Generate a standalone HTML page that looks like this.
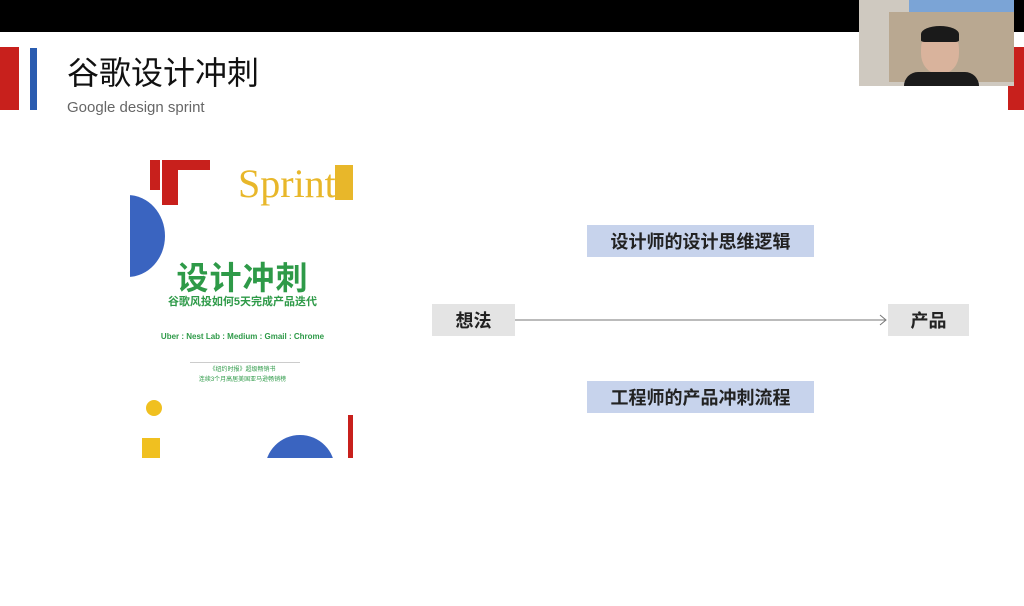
<!DOCTYPE html>
<html><head><meta charset="utf-8"><style>
body{margin:0;width:1024px;height:606px;background:#fff;position:relative;overflow:hidden;font-family:"Liberation Sans","Noto Sans CJK SC",sans-serif}
div{position:absolute}
.box{display:flex;align-items:center;justify-content:center;font-size:18px;font-weight:bold;color:#222}
.g{background:#e4e4e4}.b{background:#c7d3ec}
</style></head><body>
<div style="left:0;top:0;width:1024px;height:32px;background:#000"></div>
<div style="left:0;top:47px;width:19px;height:63px;background:#c8201c"></div>
<div style="left:30px;top:48px;width:7px;height:62px;background:#2a5cb0"></div>
<div style="left:1008px;top:47px;width:16px;height:63px;background:#c8201c"></div>
<div style="left:67px;top:48px;font-size:32px;color:#111">谷歌设计冲刺</div>
<div style="left:67px;top:99px;font-size:15px;color:#666">Google design sprint</div>
<!-- webcam -->
<div style="left:859px;top:0;width:155px;height:86px;background:#cfc9c0;overflow:hidden">
 <div style="left:50px;top:0;width:105px;height:20px;background:#7ba4d6"></div>
 <div style="left:30px;top:12px;width:125px;height:70px;background:#b9a891"></div>
 <div style="left:62px;top:28px;width:38px;height:46px;background:#d9b39c;border-radius:45%"></div>
 <div style="left:62px;top:26px;width:38px;height:16px;background:#1a1a1a;border-radius:50% 50% 10% 10%"></div>
 <div style="left:45px;top:72px;width:75px;height:14px;background:#1b1b1b;border-radius:20px 20px 0 0"></div>
</div>
<!-- book -->
<div style="left:130px;top:160px;width:225px;height:298px;overflow:hidden">
 <div style="left:20px;top:0;width:10px;height:30px;background:#c8201c"></div>
 <div style="left:32px;top:0;width:16px;height:45px;background:#c8201c"></div>
 <div style="left:32px;top:0;width:48px;height:10px;background:#c8201c"></div>
 <div style="left:-40px;top:35px;width:75px;height:82px;border-radius:50%;background:#3a64c0"></div>
 <div style="left:-40px;top:55px;width:40px;height:45px;border-radius:50%;background:#fff"></div>
 <div style="left:108px;top:0;font-family:'Liberation Serif',serif;font-size:40px;color:#e8b72a">Sprint</div>
 <div style="left:205px;top:5px;width:18px;height:35px;background:#e8b72a"></div>
 <div style="left:0;top:93px;width:225px;text-align:center;font-size:32px;font-weight:bold;color:#2e9a48;letter-spacing:1px">设计冲刺</div>
 <div style="left:0;top:133px;width:225px;text-align:center;font-size:11px;font-weight:bold;color:#2e9a48">谷歌风投如何5天完成产品迭代</div>
 <div style="left:0;top:172px;width:225px;text-align:center;font-size:8px;font-weight:bold;color:#2e9a48">Uber : Nest Lab : Medium : Gmail : Chrome</div>
 <div style="left:60px;top:202px;width:110px;height:1px;background:#ccc"></div>
 <div style="left:0;top:205px;width:225px;text-align:center;font-size:6px;color:#2e9a48;line-height:10px">《纽约时报》超级畅销书<br>连续3个月高居美国亚马逊畅销榜</div>
 <div style="left:16px;top:240px;width:16px;height:16px;border-radius:50%;background:#f0c020"></div>
 <div style="left:12px;top:278px;width:18px;height:20px;background:#f0c020"></div>
 <div style="left:135px;top:275px;width:70px;height:50px;border-radius:35px 35px 0 0;background:#3a64c0"></div>
 <div style="left:218px;top:255px;width:5px;height:45px;background:#c8201c"></div>
</div>
<!-- diagram -->
<div class="box b" style="left:587px;top:225px;width:227px;height:32px">设计师的设计思维逻辑</div>
<div class="box b" style="left:587px;top:381px;width:227px;height:32px">工程师的产品冲刺流程</div>
<div class="box g" style="left:432px;top:304px;width:83px;height:32px">想法</div>
<div class="box g" style="left:888px;top:304px;width:81px;height:32px">产品</div>
<svg style="position:absolute;left:0;top:0" width="1024" height="606"><line x1="515" y1="320" x2="886" y2="320" stroke="#777" stroke-width="1"/><polyline points="880,315 886,320 880,325" fill="none" stroke="#777" stroke-width="1"/></svg>
</body></html>
